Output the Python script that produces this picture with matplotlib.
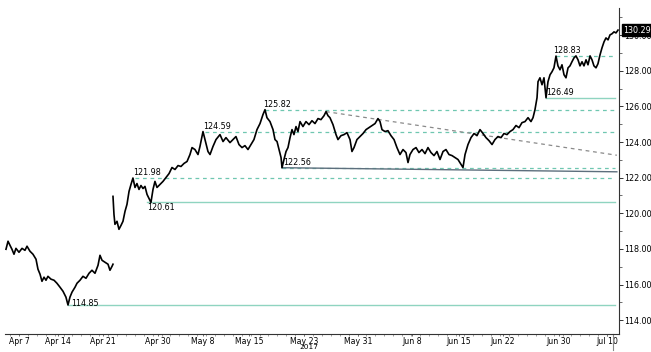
import matplotlib
matplotlib.use("Agg")
import matplotlib.pyplot as plt
import matplotlib.transforms as mtransforms
import numpy as np

plt.rcParams['font.family'] = ['Liberation Sans Narrow', 'DejaVu Sans']

# ---- data: x in trading days since Apr 7 2017, price ----
seg1_x = [-1.46, -1.23, -1.01, -0.79, -0.56, -0.34, 0.0, 0.34, 0.67, 0.90, 1.23, 1.57, 1.91, 2.13,
          2.36, 2.58, 2.81, 3.03, 3.25, 3.59, 3.93, 4.26, 4.60, 4.94, 5.27, 5.50, 5.72, 5.95, 6.29,
          6.51, 6.85, 7.18, 7.52, 7.86, 8.19, 8.53, 8.87, 9.09, 9.32, 9.65, 9.99, 10.21, 10.44, 10.55]
seg1_y = [117.98, 118.43, 118.20, 117.98, 117.70, 118.03, 117.81, 118.03, 117.92, 118.15, 117.87,
          117.70, 117.42, 116.86, 116.58, 116.18, 116.41, 116.24, 116.46, 116.30, 116.24, 116.07,
          115.85, 115.62, 115.29, 114.85, 115.29, 115.57, 115.85, 116.07, 116.24, 116.46, 116.35,
          116.63, 116.80, 116.63, 117.08, 117.64, 117.36, 117.25, 117.14, 116.80, 117.02, 117.14]

seg2_x = [10.55, 10.66, 10.77, 11.00, 11.22, 11.45, 11.67, 11.90, 12.12, 12.35, 12.57, 12.79, 13.02,
          13.24, 13.47, 13.69, 13.92, 14.14, 14.37, 14.59, 14.81, 15.04, 15.26, 15.49, 15.82, 16.16,
          16.50, 16.84, 17.17, 17.51, 17.85, 18.18, 18.52, 18.86, 19.19, 19.42, 19.75, 20.09, 20.31,
          20.65, 20.88, 21.21, 21.44, 21.77, 22.11, 22.56, 22.90, 23.23, 23.68, 24.02, 24.35, 24.69,
          25.03, 25.36, 25.70, 26.04, 26.37, 26.71, 27.05, 27.38, 27.61, 27.83, 28.17, 28.51, 28.73,
          28.96, 29.18, 29.41, 29.52, 29.74, 29.97, 30.19, 30.42, 30.64, 30.86, 31.09, 31.31, 31.54,
          31.87, 32.21, 32.55, 32.88, 33.22, 33.56, 33.89, 34.23, 34.46, 34.68, 34.90, 35.24, 35.58,
          35.80, 36.14, 36.48, 36.81, 37.15, 37.37, 37.60, 37.93, 38.27, 38.61, 38.95, 39.28, 39.62,
          39.96, 40.29, 40.52, 40.74, 41.08, 41.41, 41.75, 42.09, 42.42, 42.76, 43.10, 43.43, 43.66,
          43.88, 44.22, 44.56, 44.89, 45.23, 45.57, 45.90, 46.24, 46.58, 46.91, 47.25, 47.59, 47.92,
          48.26, 48.60, 48.93, 49.27, 49.61, 49.83, 50.06, 50.39, 50.73, 51.07, 51.40, 51.74, 52.08,
          52.41, 52.75, 53.09, 53.42, 53.76, 54.10, 54.43, 54.77, 55.11, 55.44, 55.78, 56.12, 56.45,
          56.79, 57.13, 57.46, 57.69, 57.91, 58.14, 58.25, 58.47, 58.70, 58.92, 59.15, 59.37, 59.60,
          59.82, 60.04, 60.27, 60.49, 60.72, 60.94, 61.17, 61.39, 61.62, 61.84, 62.06, 62.29, 62.51,
          62.74, 62.96, 63.19, 63.41, 63.64, 63.86, 64.09, 64.31, 64.53, 64.76, 64.98, 65.21, 65.43,
          65.66, 65.88, 66.11, 66.33, 66.55, 66.78, 67.00, 67.23]
seg2_y = [120.95, 119.94, 119.38, 119.55, 119.10, 119.32, 119.55, 120.11, 120.50, 121.23, 121.62,
          121.98, 121.45, 121.67, 121.34, 121.56, 121.39, 121.51, 121.06, 120.83, 120.61, 121.34,
          121.79, 121.45, 121.62, 121.79, 122.01, 122.23, 122.57, 122.46, 122.68, 122.63, 122.80,
          122.91, 123.30, 123.69, 123.58, 123.30, 123.75, 124.59, 124.14, 123.47, 123.30, 123.75,
          124.14, 124.42, 124.03, 124.25, 123.97, 124.14, 124.31, 123.86, 123.69, 123.80, 123.58,
          123.86, 124.14, 124.70, 125.04, 125.54, 125.82, 125.37, 125.15, 124.70, 124.14, 124.03,
          123.58, 123.13, 122.56, 123.02, 123.47, 123.69, 124.25, 124.70, 124.42, 124.87, 124.59,
          125.15, 124.87, 125.15, 124.98, 125.20, 125.04, 125.32, 125.26, 125.48, 125.71, 125.48,
          125.37, 124.98, 124.42, 124.14, 124.36, 124.42, 124.53, 124.14, 123.47, 123.69, 124.14,
          124.31, 124.48, 124.70, 124.81, 124.93, 125.04, 125.32, 125.15, 124.70, 124.59, 124.64,
          124.36, 124.14, 123.69, 123.30, 123.58, 123.41, 122.85, 123.30, 123.58, 123.69, 123.41,
          123.58, 123.35, 123.69, 123.41, 123.24, 123.47, 123.02, 123.47, 123.58, 123.30, 123.24,
          123.13, 123.02, 122.74, 122.57, 123.30, 123.86, 124.25, 124.48, 124.36, 124.70, 124.48,
          124.25, 124.08, 123.86, 124.14, 124.31, 124.25, 124.48, 124.42, 124.59, 124.70, 124.93,
          124.81, 125.09, 125.15, 125.37, 125.15, 125.37, 125.82, 126.49, 127.39, 127.61, 127.22,
          127.61, 126.49, 127.39, 127.78, 127.95, 128.17, 128.83, 128.28, 128.06, 128.34, 127.78,
          127.61, 128.17, 128.28, 128.51, 128.73, 128.84, 128.62, 128.28, 128.51, 128.28, 128.62,
          128.34, 128.84, 128.62, 128.28, 128.17, 128.40, 128.90, 129.29, 129.63, 129.85, 129.74,
          130.02, 130.08, 130.19, 130.13, 130.29]

# horizontal levels
solid_levels = [114.85, 120.61, 126.49]
solid_starts = [5.50, 14.37, 59.15]
dashed_levels = [121.98, 124.59, 125.82, 122.56, 128.83]
dashed_starts = [13.0, 20.88, 27.61, 29.52, 60.27]
level_labels = ["114.85", "120.61", "126.49", "121.98", "124.59", "125.82", "122.56", "128.83"]

# trend lines
res_trend_x = [34.46, 67.1]
res_trend_y = [125.71, 123.26]
sup_trend_x = [29.52, 67.1]
sup_trend_y = [122.56, 122.33]

tick_pos = [0.0, 4.38, 9.43, 15.6, 20.65, 25.81, 31.99, 38.05, 44.11, 49.38, 54.32, 60.61, 65.99]
tick_lab = ["Apr 7", "Apr 14", "Apr 21", "Apr 30", "May 8", "May 15", "May 23", "May 31",
            "Jun 8", "Jun 15", "Jun 22", "Jun 30", "Jul 10"]
year_label = "2017"
year_pos = 32.5
last_price = 130.29

XMIN, XMAX = -1.57, 67.34
YMIN, YMAX = 113.22, 131.53

fig = plt.figure(figsize=(6.51, 3.52), dpi=100)
ax = fig.add_axes([5/651, 1-334/352, (619-5)/651, (334-8)/352])
ax.set_xlim(XMIN, XMAX)
ax.set_ylim(YMIN, YMAX)

teal = "#8fd4c0"
teal_d = "#6fc7b0"
fs = 5.8

for v, s in zip(solid_levels, solid_starts):
    ax.plot([s, XMAX - 0.4], [v, v], color=teal, lw=1.0, zorder=2)
for v, s in zip(dashed_levels, dashed_starts):
    ax.plot([s, XMAX - 0.4], [v, v], color=teal_d, lw=0.9, ls=(0, (3, 3)), zorder=2)

ax.plot(res_trend_x, res_trend_y, color="#8a8a8a", lw=0.9, ls=(0, (3, 3)), zorder=2)
ax.plot(sup_trend_x, sup_trend_y, color="#5d6f7d", lw=1.0, zorder=2)

ax.plot(seg1_x, seg1_y, color="black", lw=1.2, zorder=5)
ax.plot(seg2_x, seg2_y, color="black", lw=1.2, zorder=5)

lab_pos = {"114.85": (5.8, 114.85, 'center'), "120.61": (14.4, 120.61, 'top'),
           "126.49": (59.15, 126.49, 'bottom'), "121.98": (12.8, 121.98, 'bottom'),
           "124.59": (20.7, 124.59, 'bottom'), "125.82": (27.4, 125.82, 'bottom'),
           "122.56": (29.6, 122.56, 'bottom'), "128.83": (59.9, 128.83, 'bottom')}
for lab in level_labels:
    x, y, va = lab_pos[lab]
    ax.text(x, y + (0.05 if va == 'bottom' else (-0.05 if va == 'top' else 0.1)), lab,
            fontsize=fs, ha='left', va=va, color='black', zorder=6)

for s in ['top', 'left']:
    ax.spines[s].set_visible(False)
for s in ['bottom', 'right']:
    ax.spines[s].set_color('#333333')
    ax.spines[s].set_linewidth(0.8)

ax.yaxis.tick_right()
yt = np.arange(114, 131, 2)
ax.set_yticks(yt)
ax.set_yticklabels([f"{v:.2f}" for v in yt], fontsize=fs)
ax.set_yticks(np.arange(114, 132, 1), minor=True)
ax.tick_params(axis='y', which='major', length=3, width=0.7, pad=1, colors='#333333', labelcolor='black')
ax.tick_params(axis='y', which='minor', length=2, width=0.6, colors='#555555')

ax.set_xticks(tick_pos)
ax.set_xticklabels(tick_lab, fontsize=5.6)
ax.set_xticks(np.arange(-1, 67, 1), minor=True)
ax.tick_params(axis='x', which='major', length=1.6, width=0.6, pad=0.4, colors='#555555', labelcolor='black')
ax.tick_params(axis='x', which='minor', length=1.3, width=0.5, colors='#777777')

trans = mtransforms.blended_transform_factory(ax.transData, ax.transAxes)
ax.annotate(year_label, xy=(year_pos, 0), xycoords=trans, xytext=(0, -7.0),
            textcoords='offset points', ha='center', va='top', fontsize=5.3, annotation_clip=False)

ax.annotate(f"{last_price:.2f}", xy=(1.0, last_price), xycoords=('axes fraction', 'data'),
            xytext=(3, 0), textcoords='offset points', fontsize=fs, color='white',
            va='center', ha='left', zorder=10, annotation_clip=False,
            bbox=dict(boxstyle='square,pad=0.15', fc='black', ec='black'))

ax.plot([66.66, 66.66], [0, -0.05], color='#888888', lw=0.8, transform=trans, clip_on=False)

fig.savefig("out.png", dpi=100)
